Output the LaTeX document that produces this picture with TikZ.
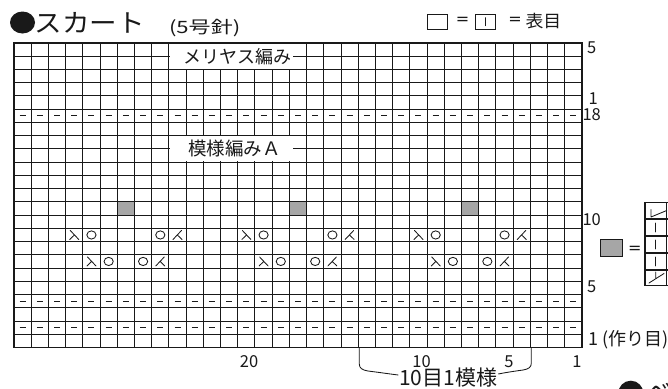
\documentclass[tikz,border=0pt]{standalone}
\usepackage{fontspec}
\setmainfont{Noto Sans CJK JP}
\newfontfamily\eqfont{DejaVu Sans}
\colorlet{graycol}{black!35}
\colorlet{inkcol}{black!90}
\begin{document}
\begin{tikzpicture}[x=1pt,y=-1pt,
  gridline/.style={line width=1.05pt, draw=inkcol, line cap=rect},
  sym/.style={line width=0.85pt, draw=inkcol, line cap=round},
  dashmark/.style={line width=0.9pt, draw=inkcol},
  txt/.style={inner sep=0pt, outer sep=0pt, text=inkcol},
  eqtxt/.style={inner sep=0pt, outer sep=0pt, text=inkcol, anchor=base, font=\eqfont\fontsize{16}{16}\selectfont},
  legbox/.style={draw=inkcol, line width=0.75pt, inner sep=0pt},
  kdecR/.pic={\draw[sym] (-4,-4.5) -- (4.5,4.5) (0.2,0) -- (-4.5,4.5);},
  kdecL/.pic={\draw[sym] (4,-4.5) -- (-4.5,4.5) (-0.2,0) -- (4.5,4.5);},
  kyo/.pic={\draw[sym] (0,0) ellipse [x radius=4.6, y radius=4.1];},
]
\useasboundingbox (0,0) rectangle (668,388);
\pgfmathsetmacro\W{568/33}
\pgfmathsetmacro\H{304.5/23}
\def\LX{14}\def\RX{582}\def\TY{43}\def\BY{347.5}

% gray cells (row 11)
\foreach \i in {6,16,26}{
  \fill[graycol] ({\LX+\i*\W},{\BY-11*\H}) rectangle ({\LX+(\i+1)*\W},{\BY-10*\H});
}
% grid
\foreach \i in {0,...,33} \draw[gridline] ({\LX+\i*\W},\TY) -- ({\LX+\i*\W},\BY);
\foreach \j in {0,...,23} \draw[gridline] (\LX,{\TY+\j*\H}) -- (\RX,{\TY+\j*\H});

% white label boxes
\fill[white] (169.7,43.8) rectangle (293,{\TY+2*\H-0.7});
\fill[white] (169.7,{\TY+7*\H+0.7}) rectangle (293,{\TY+9*\H-0.7});
\node[txt, font=\fontsize{18}{18}\selectfont] (stst) at (237.5,56.3) {メリヤス編み};
\node[txt, font=\fontsize{18.5}{18.5}\selectfont] (patA) at (234.4,148.6) {模様編みＡ};

% purl rows
\foreach \r in {2,4,18}
  \foreach \i in {0,...,32}
    \draw[dashmark] ({\LX+(\i+0.5)*\W-3},{\BY-(\r-0.5)*\H}) -- ++(6,0);

% lace symbols, rows 9 and 7
\foreach \b in {0,10,20}{
  \pic at ({\LX+(\b+3.5)*\W},{\BY-8.5*\H}) {kdecR};
  \pic at ({\LX+(\b+4.5)*\W},{\BY-8.5*\H}) {kyo};
  \pic at ({\LX+(\b+8.5)*\W},{\BY-8.5*\H}) {kyo};
  \pic at ({\LX+(\b+9.5)*\W},{\BY-8.5*\H}) {kdecL};
  \pic at ({\LX+(\b+4.5)*\W},{\BY-6.5*\H}) {kdecR};
  \pic at ({\LX+(\b+5.5)*\W},{\BY-6.5*\H}) {kyo};
  \pic at ({\LX+(\b+7.5)*\W},{\BY-6.5*\H}) {kyo};
  \pic at ({\LX+(\b+8.5)*\W},{\BY-6.5*\H}) {kdecL};
}

% title
\fill[inkcol] (22.5,22.5) ellipse [x radius=12.5, y radius=11];
\node[txt, anchor=west, font=\fontsize{25.5}{25.5}\selectfont] (title) at (34.5,22.5) {\scalebox{1.08}[1]{スカート}};
\node[txt, anchor=west, font=\fontsize{17}{17}\selectfont] (needle) at (169,28.5) {\scalebox{1.3}[1]{(5号針)}};

% top legend
\node[legbox, minimum width=20, minimum height=15] (leg1) at (437.7,21.7) {};
\node[eqtxt] (eq1) at (462.5,24.3) {=};
\node[legbox, minimum width=20, minimum height=15] (leg2) at (485.7,21.7) {};
\draw[sym] ([yshift=-4]leg2.center) -- ([yshift=4]leg2.center);
\node[eqtxt] (leg3a) at (515,24.3) {=};
\node[txt, anchor=west, font=\fontsize{17}{17}\selectfont] (leg3) at (525.5,21.5) {\scalebox{1.05}[1]{表目}};

% right row numbers
\node[txt, anchor=base west, font=\fontsize{16.5}{16.5}\selectfont] (r5top) at (587,53.3) {5};
\node[txt, anchor=base west, font=\fontsize{16.5}{16.5}\selectfont] (r1top) at (588.5,104.8) {1};
\node[txt, anchor=base west, font=\fontsize{16.5}{16.5}\selectfont] (r18) at (582.5,120) {18};
\node[txt, anchor=base west, font=\fontsize{16.5}{16.5}\selectfont] (r10) at (582.5,225.3) {10};
\node[txt, anchor=base west, font=\fontsize{16.5}{16.5}\selectfont] (r5) at (587,292) {5};
\node[txt, anchor=base west, font=\fontsize{18}{18}\selectfont] (r1) at (588.5,345.5) {1 (作り目)};

% bottom column numbers
\node[txt, anchor=base, font=\fontsize{16.5}{16.5}\selectfont] (c20) at (249,367) {20};
\node[txt, anchor=base, font=\fontsize{16.5}{16.5}\selectfont] (c10) at (421.5,367) {10};
\node[txt, anchor=base, font=\fontsize{16.5}{16.5}\selectfont] (c5) at (509,367) {5};
\node[txt, anchor=base, font=\fontsize{16.5}{16.5}\selectfont] (c1) at (577,367) {1};

% repeat brace
\node[txt, font=\fontsize{21}{21}\selectfont] (rep) at (448.3,378) {10目1模様};
\coordinate (bl) at (359.3,\BY);
\coordinate (br) at (531.3,\BY);
\draw[line width=0.85pt, draw=inkcol] (bl) -- (359.3,364) .. controls (359.3,368) and (362,370) .. (368,371)
  .. controls (380,372.5) and (390,374) .. ([shift={(-1,-3)}]rep.west);
\draw[line width=0.85pt, draw=inkcol] (br) -- (531.3,363) .. controls (531.3,367) and (529,369) .. (523,370)
  .. controls (512,371.5) and (503,373) .. ([shift={(1,-4)}]rep.east);

% gray-cell legend
\node[legbox, fill=graycol, minimum width=22.5, minimum height=16.5] (gleg) at (611.2,248) {};
\node[eqtxt] (geq) at (634.7,253) {=};
\draw[gridline] (645,202.3) rectangle (700,285.7);
\foreach \y in {219,236,253,270} \draw[gridline] (645,\y) -- (700,\y);
\draw[gridline] (666.7,202.3) -- (666.7,285.7);
\draw[sym] (651,209.5) -- (651,217) (651,217) -- (666.7,210.5);
\foreach \y in {219,236,253} \draw[sym] (655.8,\y+4) -- (655.8,\y+13);
\draw[sym] (655.8,272) -- (655.8,278) (649,283) -- (664,273.5);

% next section (cut off)
\fill[inkcol] (630.8,393.2) circle [radius=12.5];
\node[txt, anchor=west, font=\fontsize{25}{25}\selectfont] (next) at (645,392) {\scalebox{1.08}[1]{ベ}};
\end{tikzpicture}
\end{document}
